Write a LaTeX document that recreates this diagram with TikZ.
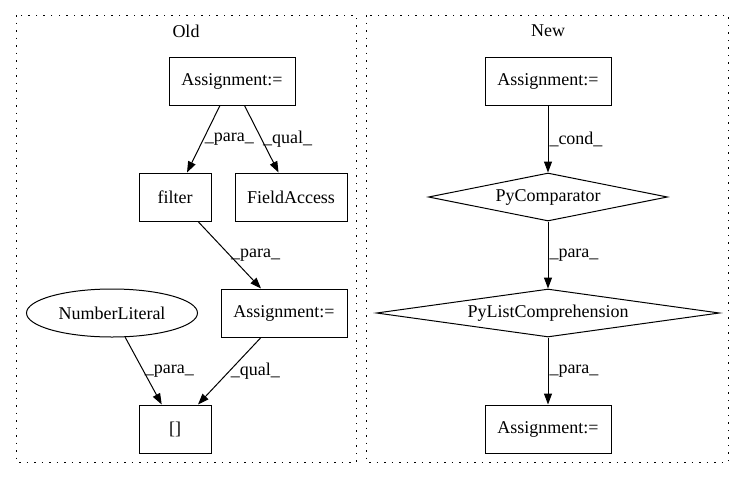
\documentclass[tikz,border=0pt]{standalone}
\usepackage{fontspec}
\setmainfont{Liberation Serif}
\usetikzlibrary{shapes.geometric,arrows.meta}

\begin{document}
\begin{tikzpicture}[x=1pt, y=-1pt,
    every node/.style={font=\fontsize{18}{21}\selectfont},
    box/.style={draw, rectangle, line width=1pt, minimum height=48pt, inner sep=0pt},
    oval/.style={draw, ellipse, line width=1pt, minimum width=171pt, minimum height=48pt, inner sep=0pt},
    cmp/.style={draw, diamond, line width=1pt, minimum height=48pt, inner sep=0pt},
    flow/.style={-{Triangle[length=11pt,width=8pt]}, line width=1pt},
    lbl/.style={right, inner sep=1pt},
    cluster/.style={line width=1pt, dash pattern=on 1.5pt off 6pt}]
    \useasboundingbox (0,0) rectangle (744,480);

    % clusters
    \draw[cluster] (16,15) rectangle (356,462);
    \draw[cluster] (366,15) rectangle (728,462);
    \node (old) at (186,31) {Old};
    \node (new) at (548,31) {New};

    % old
    \node[box, minimum width=126pt] (oassign) at (232,81) {Assignment:=};
    \node[box, minimum width=72pt] (filter) at (175,197) {filter};
    \node[box, minimum width=112pt] (field) at (291,197) {FieldAccess};
    \node[box, minimum width=126pt] (oassign2) at (284,313) {Assignment:=};
    \node[oval] (number) at (112,313) {NumberLiteral};
    \node[box, minimum width=72pt] (index) at (175,429) {[]};

    \draw[flow] (oassign) -- node[lbl] {\_para\_} (filter);
    \draw[flow] (oassign) -- node[lbl] {\_qual\_} (field);
    \draw[flow] (filter) -- node[lbl] {\_para\_} (oassign2);
    \draw[flow] (number) -- node[lbl] {\_para\_} (index);
    \draw[flow] (oassign2) -- node[lbl] {\_qual\_} (index);

    % new
    \node[box, minimum width=126pt] (nassign) at (548,81) {Assignment:=};
    \node[cmp, aspect=4.98, minimum width=239pt] (comparator) at (548,197) {PyComparator};
    \node[cmp, aspect=7.15, minimum width=343pt] (listcomp) at (548,313) {PyListComprehension};
    \node[box, minimum width=126pt] (nassign2) at (548,429) {Assignment:=};

    \draw[flow] (nassign) -- node[lbl] {\_cond\_} (comparator);
    \draw[flow] (comparator) -- node[lbl] {\_para\_} (listcomp);
    \draw[flow] (listcomp) -- node[lbl] {\_para\_} (nassign2);
\end{tikzpicture}
\end{document}
